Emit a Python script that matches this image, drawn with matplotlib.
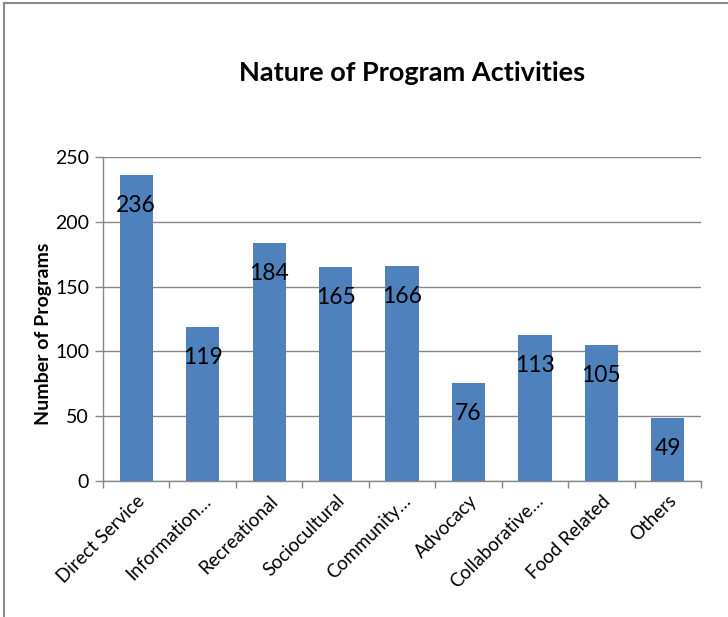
import numpy as np
import matplotlib
matplotlib.use("Agg")
import matplotlib.pyplot as plt
from matplotlib.lines import Line2D
from matplotlib.ticker import MultipleLocator, FixedLocator

# data
# ----------
categories = ["Direct Service", "Information…", "Recreational", "Sociocultural",
              "Community…", "Advocacy", "Collaborative…", "Food Related", "Others"]
programs = [236, 119, 184, 165, 166, 76, 113, 105, 49]

# plot settings
# ----------
plt.rcParams["font.family"] = ["Lato", "DejaVu Sans"]

bar_color = "#4F81BD"
color_grid = "#878787"

fig = plt.figure(figsize=(7.28, 6.17), dpi=100)
ax = fig.add_axes([0.1415, 0.2204, 0.8215, 0.5251])

x = np.arange(len(categories))
bars = ax.bar(x, programs, width=0.5, color=bar_color, zorder=3)

for xi, val in zip(x, programs):
    ax.annotate(str(val), (xi, val), xytext=(0, -22), textcoords="offset points",
                ha="center", va="center", fontsize=16.5, color="black", zorder=4)

ax.set_xlim(-0.5, len(categories) - 0.5)
ax.set_ylim(0, 250)
ax.yaxis.set_major_locator(MultipleLocator(50))
ax.yaxis.grid(True, color=color_grid, lw=1.0, zorder=0)

ax.set_xticks(x)
ax.set_xticklabels(categories, rotation=45, ha="right", rotation_mode="anchor",
                   fontsize=13.5)
ax.xaxis.set_minor_locator(FixedLocator(np.arange(-0.5, len(categories), 1.0)))
ax.tick_params(axis="x", which="major", length=0, pad=8)
ax.tick_params(axis="x", which="minor", length=5, color=color_grid, width=1)
ax.tick_params(axis="y", length=6, color=color_grid, width=1, labelsize=14, pad=4)

for side in ["top", "right"]:
    ax.spines[side].set_visible(False)
for side in ["left", "bottom"]:
    ax.spines[side].set_color(color_grid)
    ax.spines[side].set_linewidth(1.0)

ax.set_ylabel("Number of Programs", fontsize=14, fontweight="bold")
ax.yaxis.set_label_coords(-0.085, 0.455)

fig.text(0.566, 0.881, "Nature of Program Activities", ha="center", va="center",
         fontsize=19.5, fontweight="bold")

# outer frame (top and left edge only)
fig.add_artist(Line2D([4 / 728, 1.0], [1 - 3 / 617, 1 - 3 / 617],
                      transform=fig.transFigure, color="#8a8a8a", lw=1.5))
fig.add_artist(Line2D([4 / 728, 4 / 728], [0.0, 1 - 3 / 617],
                      transform=fig.transFigure, color="#8a8a8a", lw=1.5))

fig.savefig("out.png", dpi=100)
